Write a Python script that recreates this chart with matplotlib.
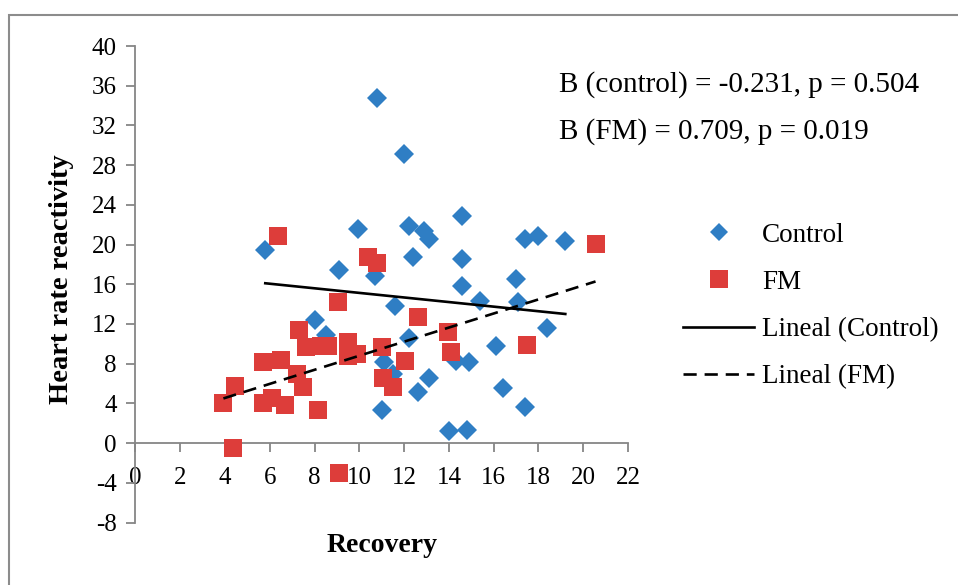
import matplotlib
matplotlib.use("Agg")
import matplotlib.pyplot as plt
from matplotlib.lines import Line2D
from matplotlib.patches import Rectangle
import numpy as np

# ---- data ----
control_x = [10.8, 12.0, 5.8, 9.95, 9.1, 10.7, 12.2, 12.4, 12.9, 13.1, 14.6, 14.6,
             14.6, 17.4, 18.0, 19.2, 17.0, 11.6, 15.4, 17.1, 18.4, 8.0, 12.2, 16.1,
             14.9, 14.3, 13.1, 12.6, 16.4, 17.4, 11.0, 14.0, 14.8, 11.1, 11.5, 8.5]
control_y = [34.8, 29.1, 19.4, 21.6, 17.4, 16.8, 21.9, 18.7, 21.4, 20.6, 22.9, 18.5,
             15.8, 20.6, 20.9, 20.4, 16.5, 13.8, 14.3, 14.2, 11.6, 12.4, 10.6, 9.8,
             8.2, 8.3, 6.6, 5.1, 5.5, 3.6, 3.3, 1.2, 1.3, 8.2, 7.0, 10.9]

fm_x = [6.35, 10.4, 10.8, 20.55, 9.05, 7.3, 7.6, 8.3, 9.5, 9.5, 9.9, 11.0,
        5.7, 6.5, 7.2, 7.5, 4.45, 3.93, 5.7, 6.7, 6.1, 8.15, 4.35, 9.1,
        11.05, 11.5, 12.05, 12.6, 13.95, 14.1, 17.5, 8.6]
fm_y = [20.9, 18.7, 18.1, 20.1, 14.2, 11.4, 9.7, 9.8, 10.2, 8.8, 9.0, 9.7,
        8.2, 8.4, 7.0, 5.6, 5.8, 4.0, 4.0, 3.8, 4.5, 3.3, -0.5, -3.0,
        6.6, 5.6, 8.3, 12.7, 11.2, 9.2, 9.9, 9.8]

# linear trend (slope, intercept)
control_fit = (-0.231, 17.44)
fm_fit = (0.709, 1.71)

x_ticks = list(range(0, 23, 2))
y_ticks = list(range(-8, 41, 4))

stats_lines = ["B (control) = -0.231, p = 0.504", "B (FM) = 0.709, p = 0.019"]
series_names = ["Control", "FM", "Lineal (Control)", "Lineal (FM)"]

# ---- style ----
BLUE = "#2F7EC4"
RED = "#DD3D3A"
AXC = "#868686"
FONT = ["Liberation Serif", "DejaVu Serif"]
plt.rcParams["font.family"] = FONT
plt.rcParams["axes.unicode_minus"] = False

W, H = 958, 585
fig = plt.figure(figsize=(W / 100, H / 100), dpi=100)
fig.patch.set_facecolor("white")

# outer chart border
fig.patches.append(Rectangle((9 / W, -0.2), 1.5, 1.2 - 15 / H, transform=fig.transFigure,
                             fill=False, edgecolor="#8C8C8C", lw=1.5, zorder=0))

ax_left, ax_right = 135.4, 628.0
ax_top, ax_bot = 46.0, 522.5
ax = fig.add_axes([ax_left / W, (H - ax_bot) / H, (ax_right - ax_left) / W, (ax_bot - ax_top) / H])
ax.set_xlim(0, 22)
ax.set_ylim(-8, 40)
ax.patch.set_alpha(0)

for s in ["top", "right"]:
    ax.spines[s].set_visible(False)
ax.spines["bottom"].set_position(("data", 0))
for s in ["left", "bottom"]:
    ax.spines[s].set_color(AXC)
    ax.spines[s].set_linewidth(1.3)

ax.set_xticks(x_ticks)
ax.set_yticks(y_ticks)
ax.tick_params(axis="both", direction="out", color=AXC, width=1.3, length=6.5,
               labelsize=18, labelcolor="black")
ax.tick_params(axis="x", pad=11)
ax.tick_params(axis="y", pad=7)

ms = 10.5
ax.plot(control_x, control_y, linestyle="none", marker="D", markersize=ms * 0.98,
        color=BLUE, markeredgewidth=0, zorder=3)
ax.plot(fm_x, fm_y, linestyle="none", marker="s", markersize=ms * 1.28,
        color=RED, markeredgewidth=0, zorder=4)

cx = np.array([min(control_x), max(control_x)])
fx = np.array([min(fm_x), max(fm_x)])
ax.plot(cx, control_fit[0] * cx + control_fit[1], color="black", lw=1.9, zorder=5)
ax.plot(fx, fm_fit[0] * fx + fm_fit[1], color="black", lw=1.9, dashes=(5, 3), zorder=5)

ax.set_xlabel("Recovery", fontsize=20, fontweight="bold")
ax.xaxis.set_label_coords((382 - ax_left) / (ax_right - ax_left), -(546 - ax_bot) / (ax_bot - ax_top))
ax.xaxis.label.set_va("center")
ax.set_ylabel("Heart rate reactivity", fontsize=20.5, fontweight="bold")
ax.yaxis.set_label_coords(-(ax_left - 61) / (ax_right - ax_left), (ax_bot - 279) / (ax_bot - ax_top))
ax.yaxis.label.set_va("center")

fig.text(559 / W, 1 - 85 / H, stats_lines[0], fontsize=21, va="center", ha="left")
fig.text(559 / W, 1 - 132 / H, stats_lines[1], fontsize=21, va="center", ha="left")

handles = [
    Line2D([], [], linestyle="none", marker="D", markersize=ms * 0.85, color=BLUE, markeredgewidth=0),
    Line2D([], [], linestyle="none", marker="s", markersize=ms * 1.2, color=RED, markeredgewidth=0),
    Line2D([], [], color="black", lw=1.9),
    Line2D([], [], color="black", lw=1.9, dashes=(5, 3)),
]
leg = fig.legend(handles, series_names, loc="center left",
                 bbox_to_anchor=(683 / W, 1 - 306 / H), bbox_transform=fig.transFigure,
                 frameon=False, fontsize=19.5, borderpad=0, borderaxespad=0,
                 handlelength=2.63, handletextpad=0.3, labelspacing=0.82, numpoints=1)

fig.savefig("out.png", dpi=100, facecolor="white")
